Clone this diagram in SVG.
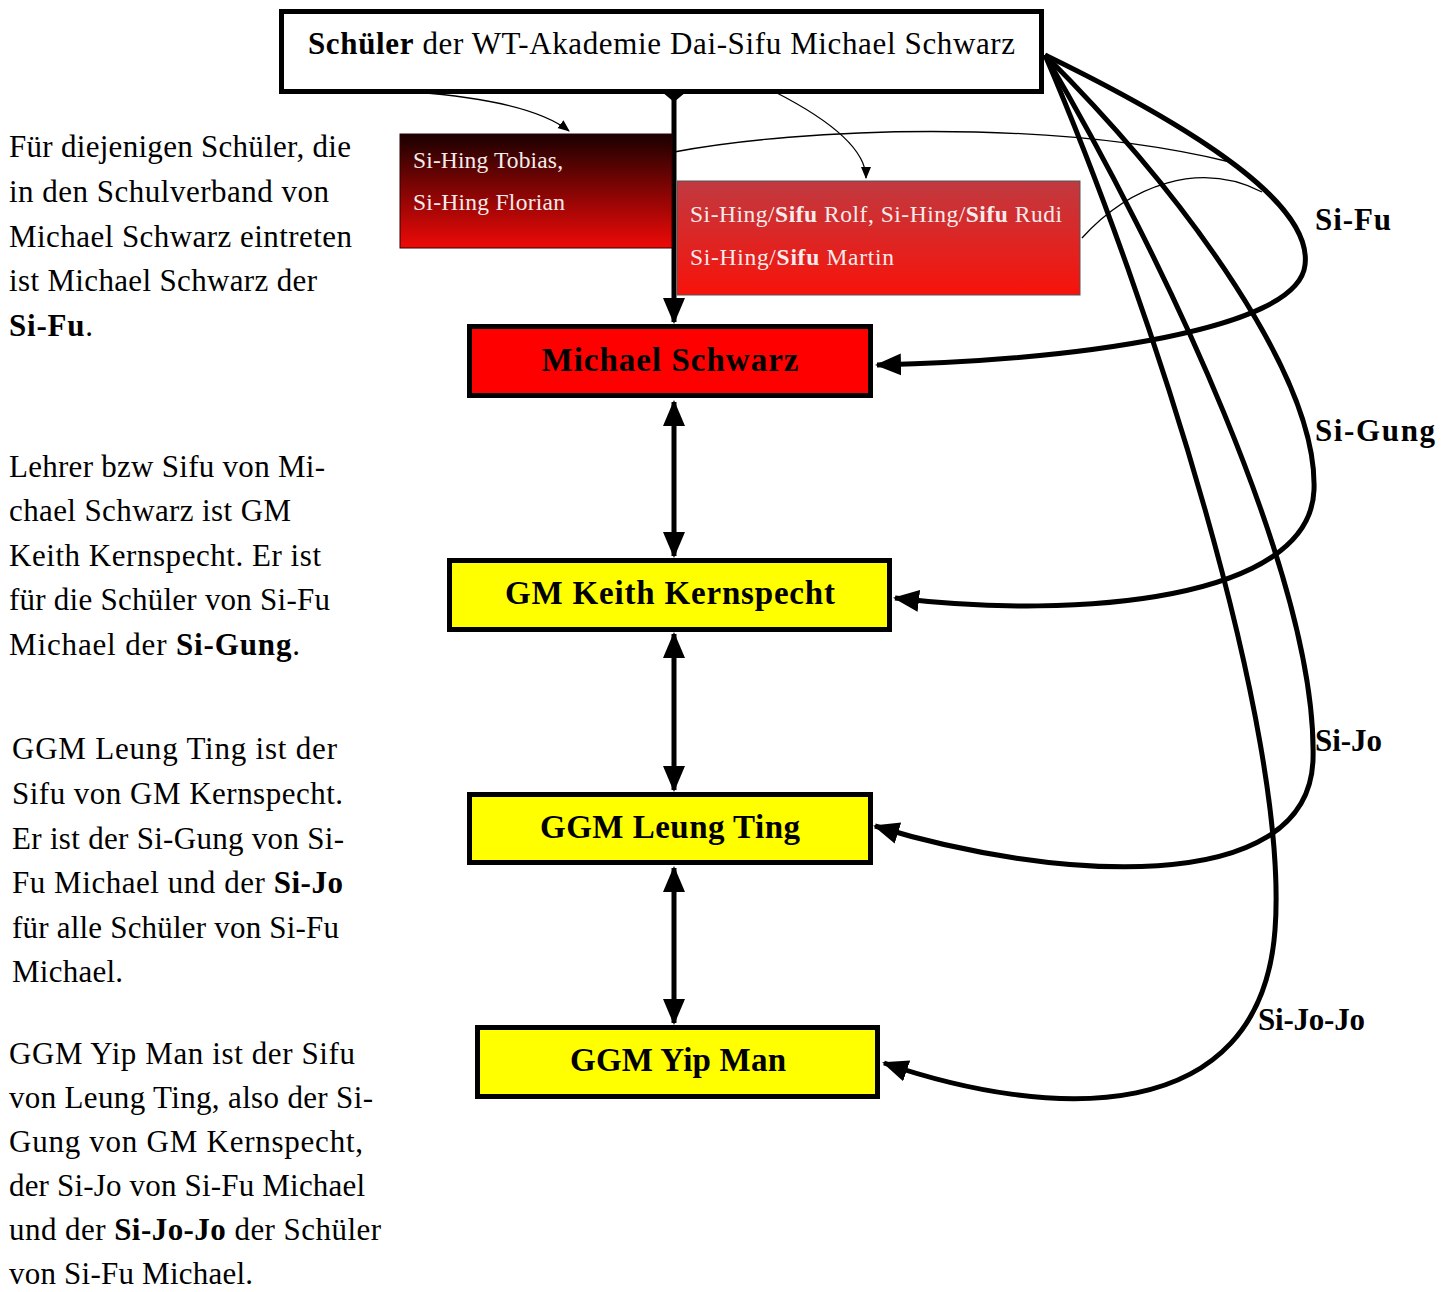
<svg xmlns="http://www.w3.org/2000/svg" width="1453" height="1292" viewBox="0 0 1453 1292">
<style>
text{font-family:"Liberation Serif","Times New Roman",serif;fill:#000}
.b{font-weight:bold}
.p{font-size:31px}
.box{stroke:#000;stroke-width:5}
.nt{font-size:33px;font-weight:bold;text-anchor:middle}
.wt{font-size:23.5px;fill:#f4ecec}
.thick{fill:none;stroke:#000;stroke-width:5}
.thin{fill:none;stroke:#000;stroke-width:1.3}
.lbl{font-size:31px;font-weight:bold}
</style>
<defs>
<linearGradient id="g1" x1="0" y1="0" x2="0" y2="1">
<stop offset="0" stop-color="#1a0000"/>
<stop offset="1" stop-color="#ee0a08"/>
</linearGradient>
<linearGradient id="g2" x1="0" y1="0" x2="0" y2="1">
<stop offset="0" stop-color="#c03a40"/>
<stop offset="1" stop-color="#f8120a"/>
</linearGradient>
<marker id="ah" markerUnits="userSpaceOnUse" markerWidth="26" markerHeight="26" viewBox="0 0 26 26" refX="24" refY="13" orient="auto-start-reverse">
<path d="M0,2 L26,13 L0,24 Z" fill="#000"/>
</marker>
<marker id="as" markerUnits="userSpaceOnUse" markerWidth="12" markerHeight="12" viewBox="0 0 12 12" refX="11" refY="6" orient="auto">
<path d="M0,1 L12,6 L0,11 Z" fill="#000"/>
</marker>
</defs>

<g id="text-left">
<text class="p" x="9" y="157" textLength="342">Für diejenigen Schüler, die</text>
<text class="p" x="9" y="202" textLength="320">in den Schulverband von</text>
<text class="p" x="9" y="247" textLength="343">Michael Schwarz eintreten</text>
<text class="p" x="9" y="291" textLength="308">ist Michael Schwarz der</text>
<text class="p" x="9" y="336" textLength="84"><tspan class="b">Si-Fu</tspan>.</text>

<text class="p" x="9" y="477" textLength="316">Lehrer bzw Sifu von Mi-</text>
<text class="p" x="9" y="521" textLength="282">chael Schwarz ist GM</text>
<text class="p" x="9" y="566" textLength="312">Keith Kernspecht. Er ist</text>
<text class="p" x="9" y="610" textLength="321">für die Schüler von Si-Fu</text>
<text class="p" x="9" y="655" textLength="291">Michael der <tspan class="b">Si-Gung</tspan>.</text>

<text class="p" x="12" y="759" textLength="325">GGM Leung Ting ist der</text>
<text class="p" x="12" y="804" textLength="331">Sifu von GM Kernspecht.</text>
<text class="p" x="12" y="849" textLength="332">Er ist der Si-Gung von Si-</text>
<text class="p" x="12" y="893" textLength="331">Fu Michael und der <tspan class="b">Si-Jo</tspan></text>
<text class="p" x="12" y="938" textLength="327">für alle Schüler von Si-Fu</text>
<text class="p" x="12" y="982" textLength="111">Michael.</text>

<text class="p" x="9" y="1064" textLength="346">GGM Yip Man ist der Sifu</text>
<text class="p" x="9" y="1108" textLength="364">von Leung Ting, also der Si-</text>
<text class="p" x="9" y="1152" textLength="354">Gung von GM Kernspecht,</text>
<text class="p" x="9" y="1196" textLength="356">der Si-Jo von Si-Fu Michael</text>
<text class="p" x="9" y="1240" textLength="372">und der <tspan class="b">Si-Jo-Jo</tspan> der Schüler</text>
<text class="p" x="9" y="1284" textLength="244">von Si-Fu Michael.</text>
</g>

<g id="connectors">
<path class="thick" d="M674,94 L674,322" marker-end="url(#ah)"/>
<path d="M662,92 L686,92 L674,102 Z" fill="#000"/>
<path class="thick" d="M674,402 L674,556" marker-start="url(#ah)" marker-end="url(#ah)"/>
<path class="thick" d="M674,634 L674,790" marker-start="url(#ah)" marker-end="url(#ah)"/>
<path class="thick" d="M674,868 L674,1023" marker-start="url(#ah)" marker-end="url(#ah)"/>
<path class="thin" d="M415,92 C480,97 540,108 569,131" marker-end="url(#as)"/>
<path class="thin" d="M775,92 C820,115 866,145 866,178" marker-end="url(#as)"/>
<path class="thin" d="M674,152 C800,128 1050,118 1230,162"/>
<path class="thin" d="M1082,238 C1130,185 1200,160 1262,192"/>
<path class="thick" d="M1045,55 C1220,140 1312,210 1305,265 C1298,330 1080,360 877,365" marker-end="url(#ah)"/>
<path class="thick" d="M1045,55 C1190,200 1318,380 1314,490 C1310,600 1080,620 895,598" marker-end="url(#ah)"/>
<path class="thick" d="M1045,55 C1160,250 1318,580 1313,760 C1308,900 1050,880 875,826" marker-end="url(#ah)"/>
<path class="thick" d="M1045,55 C1150,300 1290,730 1275,930 C1260,1130 1050,1120 884,1063" marker-end="url(#ah)"/>
<text class="lbl" x="1315" y="230" textLength="76">Si-Fu</text>
<text class="lbl" x="1315" y="441" textLength="120">Si-Gung</text>
<text class="lbl" x="1315" y="751" textLength="67">Si-Jo</text>
<text class="lbl" x="1258" y="1030" textLength="107">Si-Jo-Jo</text>
</g>

<g id="node-schueler">
<rect x="281.5" y="11.5" width="760" height="80" fill="#fff" class="box"/>
<text x="308" y="54" style="font-size:31px" textLength="707"><tspan class="b">Schüler</tspan> der WT-Akademie Dai-Sifu Michael Schwarz</text>
</g>

<g id="node-tobias">
<rect x="400" y="134" width="272" height="114" fill="url(#g1)" stroke="#300" stroke-width="1"/>
<text class="wt" x="413" y="168" textLength="150">Si-Hing Tobias,</text>
<text class="wt" x="413" y="210" textLength="152">Si-Hing Florian</text>
</g>

<g id="node-rolf">
<rect x="677" y="181" width="403" height="114" fill="url(#g2)" stroke="#555" stroke-width="1"/>
<text class="wt" x="690" y="222" textLength="372">Si-Hing/<tspan class="b">Sifu</tspan> Rolf, Si-Hing/<tspan class="b">Sifu</tspan> Rudi</text>
<text class="wt" x="690" y="265" textLength="204">Si-Hing/<tspan class="b">Sifu</tspan> Martin</text>
</g>

<g id="node-michael">
<rect x="469.5" y="326.5" width="401" height="69" fill="#ff0000" class="box"/>
<text class="nt" x="670" y="371" textLength="257">Michael Schwarz</text>
</g>

<g id="node-keith">
<rect x="449.5" y="560.5" width="440" height="69" fill="#ffff00" class="box"/>
<text class="nt" x="670" y="604" textLength="330">GM Keith Kernspecht</text>
</g>

<g id="node-leung">
<rect x="469.5" y="794.5" width="401" height="68" fill="#ffff00" class="box"/>
<text class="nt" x="670" y="838" textLength="260">GGM Leung Ting</text>
</g>

<g id="node-yip">
<rect x="477.5" y="1027.5" width="400" height="69" fill="#ffff00" class="box"/>
<text class="nt" x="678" y="1071" textLength="216">GGM Yip Man</text>
</g>
</svg>
